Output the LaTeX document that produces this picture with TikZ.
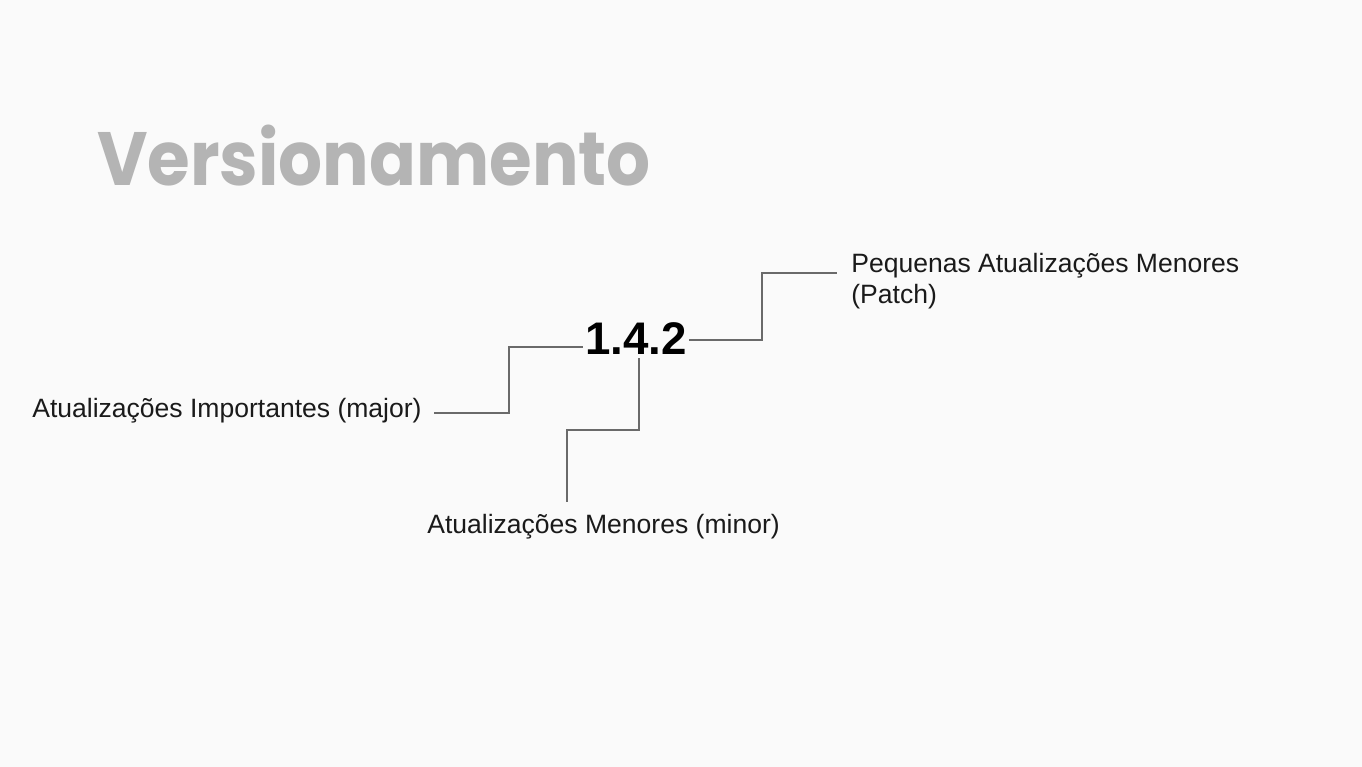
\documentclass[tikz,border=0pt]{standalone}
\usepackage{fontspec}
\setmainfont{Liberation Sans}
\newfontfamily\titlefont{Poppins}
\usepackage{tikz}
\usepackage{xcolor}
\definecolor{titlegray}{HTML}{B4B4B4}
\definecolor{textgray}{HTML}{1A1A1A}
\definecolor{linegray}{HTML}{6A6A6A}

\begin{document}
\begin{tikzpicture}[x=0.02cm, y=-0.02cm,
		conn/.style={draw=linegray, line width=0.8pt},
		lbl/.style={anchor=base west, inner sep=0pt, text=textgray, font=\fontsize{15.1pt}{17.1pt}\selectfont}]
			\fill[black!2] (0,0) rectangle (1362,767);
			\useasboundingbox (0,0) rectangle (1362,767);
			\node[anchor=base west, inner sep=0pt, text=titlegray, font=\titlefont\bfseries\fontsize{43pt}{50pt}\selectfont] (title) at (97,185) {\scalebox{0.915}[1]{Versionamento}};
			\node[anchor=base west, inner sep=0pt, font=\bfseries\fontsize{26pt}{30pt}\selectfont] (ver) at (585,354) {1.4.2};
			\node[lbl] (major) at (32,417) {Atualizações Importantes (major)};
			\node[lbl] (minor) at (427,533) {Atualizações Menores (minor)};
			\node[lbl, align=left] (patch) at (851,303) {Pequenas Atualizações Menores\\[0.3pt](Patch)};
			\coordinate (majA) at (434,413); \coordinate (majB) at (583,347);
			\coordinate (minA) at (639,358); \coordinate (minB) at (567,502);
			\coordinate (patA) at (689,340); \coordinate (patB) at (837,273);
			\draw[conn] (majA) -- ++(75,0) |- (majB);
			\draw[conn] (minA) -- ++(0,72) -| (minB);
			\draw[conn] (patA) -- ++(73,0) |- (patB);
		\end{tikzpicture}
\end{document}
